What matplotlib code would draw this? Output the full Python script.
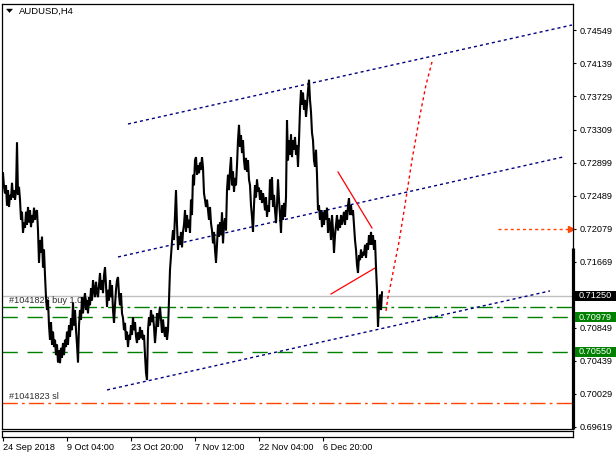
import matplotlib
matplotlib.use("Agg")
import matplotlib.pyplot as plt
import matplotlib.transforms as mtransforms
from matplotlib.patches import Rectangle, Polygon
import numpy as np

plt.rcParams['font.family'] = ['Liberation Sans', 'DejaVu Sans']

# ---------------- data ----------------
symbol_title = "AUDUSD,H4"

# H4 price trace (one value per bar, bar 0 = 24 Sep 2018)
prices = [
    0.7277, 0.7260, 0.7252, 0.7262, 0.7237, 0.7256, 0.7235, 0.7250, 0.7244, 0.7265,
    0.7247, 0.7256, 0.7244, 0.7254, 0.7315, 0.7250, 0.7260, 0.7244, 0.7219, 0.7229,
    0.7203, 0.7216, 0.7209, 0.7229, 0.7213, 0.7235, 0.7216, 0.7231, 0.7210, 0.7225,
    0.7216, 0.7234, 0.7219, 0.7229, 0.7231, 0.7206, 0.7166, 0.7194, 0.7178, 0.7198,
    0.7160, 0.7182, 0.7150, 0.7123, 0.7107, 0.7119, 0.7088, 0.7070, 0.7092, 0.7064,
    0.7080, 0.7061, 0.7070, 0.7051, 0.7064, 0.7042, 0.7057, 0.7041, 0.7060, 0.7048,
    0.7066, 0.7051, 0.7070, 0.7061, 0.7080, 0.7064, 0.7088, 0.7074, 0.7097, 0.7082,
    0.7116, 0.7088, 0.7107, 0.7082, 0.7064, 0.7042, 0.7088, 0.7107, 0.7095, 0.7123,
    0.7103, 0.7119, 0.7128, 0.7107, 0.7119, 0.7103, 0.7123, 0.7113, 0.7134, 0.7119,
    0.7144, 0.7132, 0.7123,
    0.7142, 0.7129, 0.7123, 0.7138, 0.7153, 0.7132, 0.7144, 0.7128, 0.7150, 0.7160,
    0.7138, 0.7111, 0.7132, 0.7119, 0.7144, 0.7123, 0.7138, 0.7107, 0.7091, 0.7113,
    0.7132, 0.7144, 0.7148, 0.7126, 0.7113, 0.7128, 0.7103, 0.7097, 0.7082, 0.7091,
    0.7070, 0.7080, 0.7061, 0.7076, 0.7070, 0.7088, 0.7076, 0.7098, 0.7082, 0.7092,
    0.7074, 0.7066, 0.7079, 0.7070, 0.7086, 0.7072, 0.7082, 0.7070, 0.7076, 0.7051,
    0.7029, 0.7020, 0.7082, 0.7098, 0.7088, 0.7107, 0.7092, 0.7101, 0.7086, 0.7066,
    0.7082, 0.7103, 0.7086, 0.7101, 0.7111, 0.7095, 0.7079, 0.7095, 0.7082, 0.7074,
    0.7086, 0.7070, 0.7082, 0.7119, 0.7157, 0.7175, 0.7192, 0.7206, 0.7194, 0.7225,
    0.7256, 0.7213, 0.7182, 0.7198, 0.7188, 0.7204, 0.7185, 0.7204, 0.7213, 0.7231,
    0.7204, 0.7225, 0.7209, 0.7219, 0.7203, 0.7244, 0.7225, 0.7275, 0.7262, 0.7293,
    0.7297, 0.7275, 0.7287, 0.7277, 0.7290, 0.7281, 0.7297, 0.7284, 0.7252, 0.7244,
    0.7235, 0.7244, 0.7231, 0.7219, 0.7235, 0.7215, 0.7206, 0.7190, 0.7204, 0.7182,
    0.7166, 0.7188, 0.7213, 0.7198, 0.7216, 0.7200, 0.7228, 0.7190, 0.7213, 0.7221,
    0.7206, 0.7256, 0.7275, 0.7256, 0.7281, 0.7297, 0.7262, 0.7279, 0.7254, 0.7271,
    0.7262, 0.7287, 0.7318, 0.7337, 0.7310, 0.7324, 0.7302, 0.7318, 0.7293, 0.7281,
    0.7296, 0.7279, 0.7293, 0.7269, 0.7262, 0.7237, 0.7223, 0.7204, 0.7237, 0.7262,
    0.7247, 0.7269, 0.7254, 0.7259, 0.7244, 0.7256, 0.7240, 0.7252, 0.7244, 0.7231,
    0.7247, 0.7223, 0.7237, 0.7229, 0.7269, 0.7244, 0.7272, 0.7235, 0.7250, 0.7231,
    0.7215, 0.7237, 0.7269, 0.7244, 0.7225, 0.7203, 0.7237, 0.7219, 0.7240, 0.7223,
    0.7247, 0.7343, 0.7293, 0.7318, 0.7300,
    0.7325, 0.7297, 0.7318, 0.7306, 0.7322, 0.7300, 0.7312, 0.7285, 0.7318, 0.7356,
    0.7380, 0.7362, 0.7377, 0.7356, 0.7368, 0.7347, 0.7362, 0.7380, 0.7393, 0.7368,
    0.7353, 0.7327, 0.7318, 0.7293, 0.7285, 0.7306, 0.7275, 0.7231, 0.7237, 0.7219,
    0.7231, 0.7210, 0.7228, 0.7213, 0.7231, 0.7219, 0.7234, 0.7203, 0.7221, 0.7213,
    0.7194, 0.7225, 0.7206, 0.7178, 0.7200, 0.7213, 0.7225, 0.7206, 0.7219, 0.7209,
    0.7225, 0.7213, 0.7221, 0.7229, 0.7213, 0.7231, 0.7219, 0.7237, 0.7246, 0.7225,
    0.7237, 0.7225, 0.7231, 0.7213, 0.7194, 0.7182, 0.7163, 0.7153, 0.7175, 0.7169,
    0.7182, 0.7172, 0.7179, 0.7175, 0.7188, 0.7172, 0.7190, 0.7182, 0.7200, 0.7188,
    0.7204, 0.7188, 0.7200, 0.7182, 0.7194, 0.7160, 0.7132, 0.7086, 0.7113, 0.7126,
    0.7107, 0.7129,
]

# channel lines: (bar_start, price_start, bar_end, price_end)
channel_upper = (125, 0.73381, 569, 0.74611)
channel_middle = (115, 0.71729, 560, 0.72971)
channel_lower = (104, 0.70077, 547, 0.71307)

# red trend lines
red_upper = (335, 0.72785, 369, 0.72089)
red_lower = (328, 0.71269, 372, 0.71592)

# red dotted projection path
proj_bars = [383, 385, 388, 392, 396, 402, 409, 417, 423, 429]
proj_prices = [0.71058, 0.71232, 0.71406, 0.71667, 0.71915, 0.72375, 0.72934, 0.73493, 0.73866, 0.74152]

# horizontal levels
bid_price = 0.71250
buy_price = 0.71110
tp1_price = 0.70979
tp2_price = 0.70550
sl_price = 0.69915
alert_price = 0.72079
alert_bars = (495, 567)

buy_label = "#1041823 buy 1.00"
sl_label = "#1041823 sl"

ytick_values = [0.74549, 0.74139, 0.73729, 0.73309, 0.72899, 0.72489, 0.72079,
                0.71669, 0.70849, 0.70439, 0.70029, 0.69619]
box_labels = [("0.71250", 0.71250, "black"),
              ("0.70979", 0.70979, "#008000"),
              ("0.70550", 0.70550, "#008000")]

xtick_bars = [0, 64, 128, 192, 256, 320]
xtick_labels = ["24 Sep 2018", "9 Oct 04:00", "23 Oct 20:00", "7 Nov 12:00",
                "22 Nov 04:00", "6 Dec 20:00"]

# ---------------- layout ----------------
W, H = 616, 458
fig = plt.figure(figsize=(W / 100, H / 100), dpi=100)
fig.patch.set_facecolor("white")

PPP = 0.0041 / 33.0  # price per pixel


def p_at(py):
    return 0.74549 - (py - 30) * PPP


def fx(px):
    return px / W


def fy(py):
    return 1 - py / H


ax = fig.add_axes([fx(2), fy(429), fx(573) - fx(2), fy(3.5) - fy(429)])
ax.set_xlim(-1, 570)
ax.set_ylim(p_at(429), p_at(3.5))
ax.set_facecolor("white")
for s in ax.spines.values():
    s.set_linewidth(0.9)
    s.set_color("black")

FS = 6.6

# horizontal levels
ax.axhline(bid_price, color="#c0c0c0", lw=1.0, zorder=1)
ax.axhline(buy_price, color="#008000", lw=1.0, ls=(0, (11, 3, 2, 3)), zorder=1)
ax.axhline(tp1_price, color="#008000", lw=1.0, ls=(0, (11, 7)), zorder=1)
ax.axhline(tp2_price, color="#008000", lw=1.0, ls=(0, (11, 7)), zorder=1)
ax.axhline(sl_price, color="#ff4500", lw=1.0, ls=(0, (11, 3, 2, 3)), zorder=1)
ax.plot(list(alert_bars), [alert_price, alert_price], color="#ff4500", lw=1.0,
        ls=(0, (2.2, 2.2)), zorder=1)
ax.plot([alert_bars[1] + 1], [alert_price], marker=">", color="#ff4500",
        markersize=4, zorder=2, clip_on=False)

ax.annotate(buy_label, xy=(6, buy_price), xytext=(0, 1.5), textcoords="offset points",
            fontsize=FS, color="#303030", va="bottom", ha="left", zorder=1)
ax.annotate(sl_label, xy=(6, sl_price), xytext=(0, 1.5), textcoords="offset points",
            fontsize=FS, color="#303030", va="bottom", ha="left", zorder=1)

# channel lines
for (b0, p0, b1, p1) in (channel_upper, channel_middle, channel_lower):
    ax.plot([b0, b1], [p0, p1], color="#000080", lw=1.0, ls=(0, (2.2, 2.2)), zorder=3)

# red lines
for (b0, p0, b1, p1) in (red_upper, red_lower):
    ax.plot([b0, b1], [p0, p1], color="#ff0000", lw=0.9, zorder=3)
ax.plot(proj_bars, proj_prices, color="#ff0000", lw=1.0, ls=(0, (2.2, 2.2)), zorder=3)

# price trace
x = np.arange(len(prices))
ax.plot(x, prices, color="black", lw=1.5, zorder=4, solid_joinstyle="miter")

# right axis
ax.yaxis.tick_right()
ax.set_yticks(ytick_values)
ax.set_yticklabels([f"{v:.5f}" for v in ytick_values])
ax.tick_params(axis="y", direction="out", length=2.3, width=0.8, pad=2.5,
               labelsize=FS, colors="black")
ax.set_xticks([])

# thick bar on price axis
tb = mtransforms.blended_transform_factory(ax.transAxes, ax.transData)
ax.plot([1.0, 1.0], [p_at(248), p_at(429)], color="black", lw=2.3, transform=tb,
        clip_on=False, zorder=6, solid_capstyle="butt")

# boxed price labels
bt = mtransforms.blended_transform_factory(fig.transFigure, ax.transData)
for txt, val, col in box_labels:
    rect = Rectangle((fx(575), val - 5 * PPP), fx(616) - fx(575), 10 * PPP,
                     transform=bt, facecolor=col, edgecolor="none", clip_on=False, zorder=10)
    fig.add_artist(rect)
    t = fig.text(fx(579), 0, txt, fontsize=FS, color="white",
                 va="center", ha="left", zorder=11)
    t.set_transform(bt)
    t.set_position((fx(579), val))

# bottom small pane with time axis
ax2 = fig.add_axes([fx(2), fy(437), fx(573) - fx(2), fy(431) - fy(437)])
ax2.set_xlim(-1, 570)
ax2.set_yticks([])
for s in ax2.spines.values():
    s.set_linewidth(0.9)
    s.set_color("black")
ax2.set_xticks(xtick_bars)
ax2.set_xticklabels(xtick_labels, ha="left")
ax2.tick_params(axis="x", direction="out", length=3, width=0.8, pad=1.5,
                labelsize=FS, colors="black")

# title with triangle
fig.add_artist(Polygon([[fx(6.5), fy(9)], [fx(12.5), fy(9)], [fx(9.5), fy(12.5)]],
                       closed=True, transform=fig.transFigure, facecolor="black",
                       edgecolor="black", lw=0.3))
fig.text(fx(19), fy(11), symbol_title, fontsize=FS + 0.2, color="black",
         va="center", ha="left")

fig.savefig("out.png", dpi=100, facecolor="white")
